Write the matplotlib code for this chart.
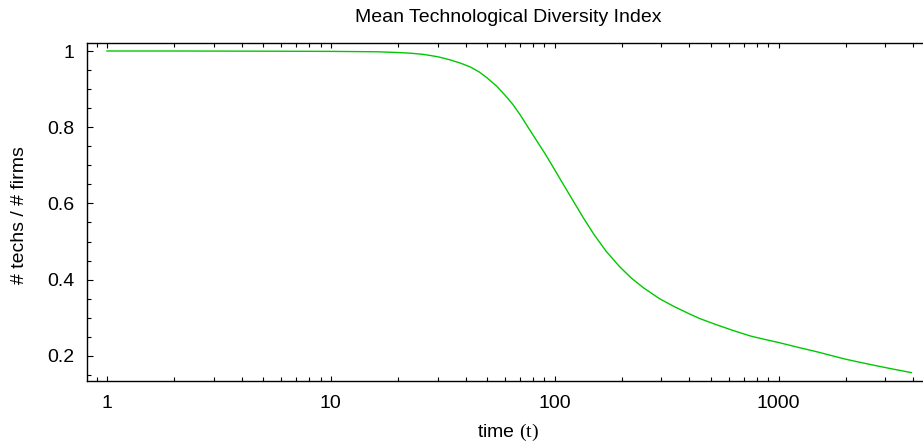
import numpy as np
import matplotlib
matplotlib.use('Agg')
import matplotlib.pyplot as plt
from matplotlib.ticker import FixedLocator, NullFormatter, MultipleLocator

# values
time = [1, 2, 5, 10, 16, 20, 23, 26, 30, 34, 38, 42, 46, 50, 55, 60, 65,
        70, 76, 83, 90, 98, 108, 120, 134, 150, 170, 195, 220, 250, 294,
        340, 400, 444, 520, 623, 750, 870, 1000, 1250, 1500, 1742, 2000,
        2400, 2735, 3200, 3924]
diversity = [1.0, 1.0, 0.9995, 0.999, 0.998, 0.996, 0.994, 0.991, 0.985,
             0.977, 0.968, 0.958, 0.945, 0.929, 0.908, 0.884, 0.860, 0.833,
             0.800, 0.765, 0.733, 0.697, 0.655, 0.610, 0.563, 0.518, 0.474,
             0.434, 0.404, 0.378, 0.350, 0.330, 0.310, 0.298, 0.283, 0.267,
             0.252, 0.243, 0.235, 0.221, 0.210, 0.200, 0.191, 0.181, 0.174,
             0.166, 0.156]
xticks = [1, 10, 100, 1000]
xticklabels = ['1', '10', '100', '1000']
yticks = [0.2, 0.4, 0.6, 0.8, 1.0]
yticklabels = ['0.2', '0.4', '0.6', '0.8', '1']

plt.rcParams['font.family'] = ['Liberation Sans', 'DejaVu Sans']
plt.rcParams['mathtext.fontset'] = 'custom'
plt.rcParams['mathtext.rm'] = 'Liberation Serif'

W, H = 923, 445
fig = plt.figure(figsize=(W / 100, H / 100), dpi=100)
ax = fig.add_axes([87 / W, 64 / H, 848 / W, 338 / H])

ax.plot(time, diversity, color='#00c800', lw=1.0)

ax.set_xscale('log')
ax.set_xlim(0.814, 5000)
ax.set_ylim(0.134, 1.021)

ax.xaxis.set_major_locator(FixedLocator(xticks))
ax.set_xticklabels(xticklabels)
minor = [m * 10 ** e for e in range(-1, 4) for m in range(2, 10)]
ax.xaxis.set_minor_locator(FixedLocator(minor))
ax.xaxis.set_minor_formatter(NullFormatter())
ax.set_yticks(yticks)
ax.set_yticklabels(yticklabels)
ax.yaxis.set_minor_locator(MultipleLocator(0.05))

ax.tick_params(which='both', direction='in', top=True, right=False,
               labelsize=14, width=0.8, color='black')
ax.tick_params(axis='x', which='major', length=3.8, pad=10)
ax.tick_params(axis='x', which='minor', length=2.6)
ax.tick_params(axis='y', which='major', length=4.3, pad=9)
ax.tick_params(axis='y', which='minor', length=2.7)
for s in ['left', 'top', 'bottom']:
    ax.spines[s].set_linewidth(1.0)
ax.spines['right'].set_visible(False)

fig.text(508 / W, 1 - 18 / H, 'Mean Technological Diversity Index',
         ha='center', va='center', fontsize=14)
fig.text(508 / W, 1 - 432 / H, r'time $\mathrm{(t)}$',
         ha='center', va='center', fontsize=14)
fig.text(20 / W, 1 - 215 / H, '# techs / # firms', rotation=90,
         ha='center', va='center', fontsize=14)

fig.savefig('out.png', dpi=100)
